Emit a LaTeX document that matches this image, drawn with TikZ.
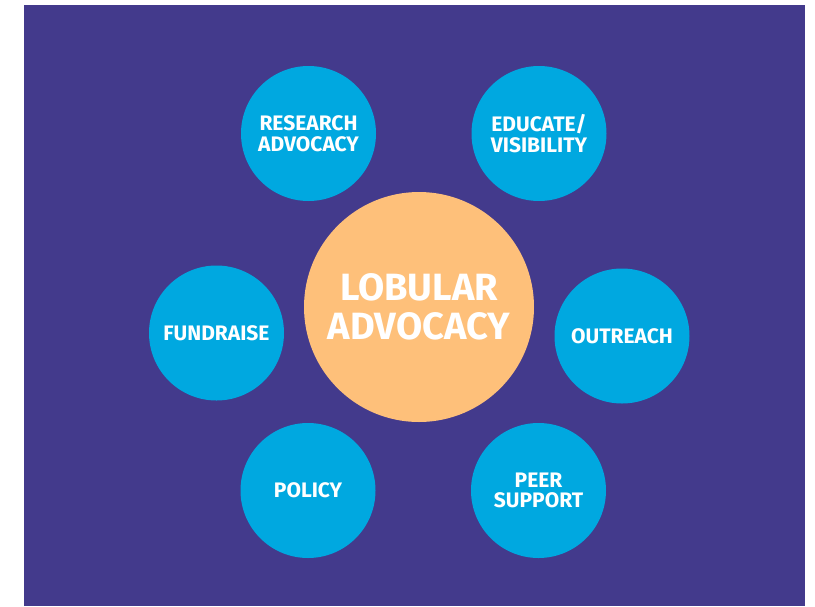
\documentclass[tikz,border=0pt]{standalone}
\usepackage{fontspec}
\setmainfont{Fira Sans}
\usepackage{tikz}
\usetikzlibrary{positioning, shapes}
\definecolor{bgpurple}{RGB}{67,58,140}
\definecolor{spokeblue}{RGB}{0,168,224}
\definecolor{hubpeach}{RGB}{254,192,122}
\tikzstyle{hub} = [circle, minimum size=230pt, inner sep=0pt, fill=hubpeach, text=white, align=center, font=\fontsize{38}{38.5}\selectfont\bfseries]
\tikzstyle{spoke} = [circle, minimum size=135pt, inner sep=0pt, fill=spokeblue, text=white, align=center, font=\fontsize{21}{20.5}\selectfont\bfseries]

\begin{document}
\begin{tikzpicture}[x=1pt, y=-1pt, node distance=173.5pt]
        \useasboundingbox (0,0) rectangle (815,606);
        \fill [bgpurple] (24,5) rectangle (805,606);

        \node (hub) [hub] at (419,307) {LOBULAR\\ADVOCACY};
        \node (research) [spoke, above of=hub, xshift=-110.5pt]{RESEARCH\\ADVOCACY};
        \node (educate) [spoke, above of=hub, xshift=120pt]{EDUCATE/\\VISIBILITY};
        \node (fundraise) [spoke, left of=hub, node distance=202.5pt, yshift=-26pt]{FUNDRAISE};
        \node (outreach) [spoke, right of=hub, node distance=203pt, yshift=-29pt]{OUTREACH};
        \node (policy) [spoke, below of=hub, node distance=183.5pt, xshift=-111pt]{POLICY};
        \node (peer) [spoke, below of=hub, node distance=183.5pt, xshift=119.5pt]{PEER\\SUPPORT};
\end{tikzpicture}
\end{document}
